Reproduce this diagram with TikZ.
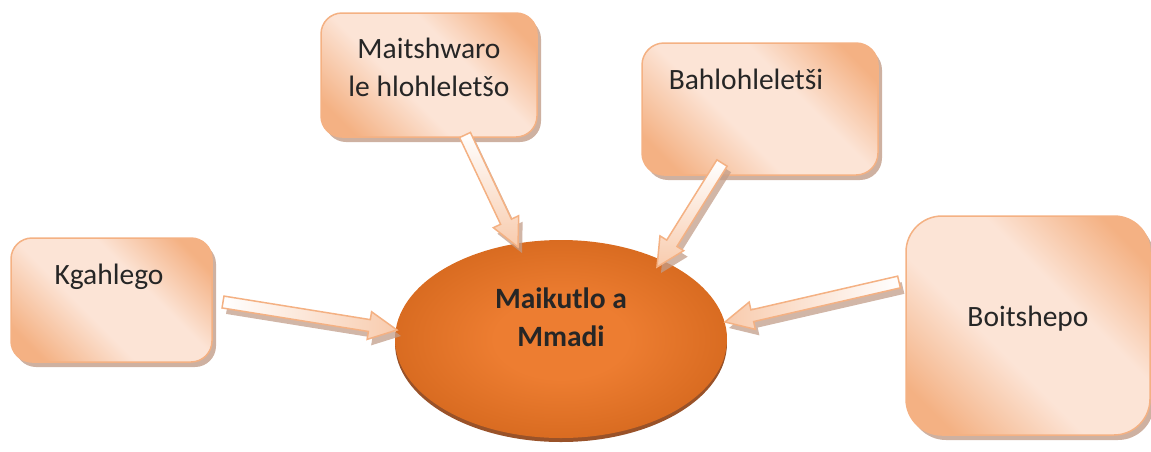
\documentclass[tikz,border=0pt]{standalone}
\usepackage{fontspec}
\setmainfont{Carlito}
\usetikzlibrary{calc,shadows,shapes.geometric}
\definecolor{peachD}{HTML}{F4B183}
\definecolor{peachL}{HTML}{FCE4D6}
\definecolor{peachM}{HTML}{F8CBAD}
\definecolor{boxline}{HTML}{F4B183}
\definecolor{shadowc}{HTML}{C29D89}
\definecolor{txt}{HTML}{262626}
\definecolor{eC}{HTML}{ED7D31}
\definecolor{eO}{HTML}{C55A11}
\definecolor{eS}{HTML}{8E3F12}
\pgfdeclareradialshading{ellsh}{\pgfpoint{0bp}{0bp}}{color(0bp)=(eC); color(10bp)=(eC); color(40bp)=(eO); color(50bp)=(eO)}
\pgfdeclareverticalshading{boxsh}{100bp}{color(0bp)=(peachD); color(22bp)=(peachD); color(42bp)=(peachL); color(60bp)=(peachL); color(78bp)=(peachD); color(100bp)=(peachD)}
\tikzset{
  boxstyle/.style={draw=boxline, line width=1.5pt, shading=boxsh, shading angle=-45,
    drop shadow={shadow xshift=4pt, shadow yshift=-5pt, fill=shadowc, opacity=0.8}},
  lbl/.style={text=txt, font=\fontsize{29.5}{38}\selectfont, inner sep=0pt, anchor=base, align=center},
  arr/.style={draw=boxline, line width=1.5pt, line join=miter,
    drop shadow={shadow xshift=4pt, shadow yshift=-6pt, fill=shadowc, opacity=0.75}},
  ell/.style={shading=ellsh, draw=none,
    drop shadow={shadow xshift=0pt, shadow yshift=-4pt, fill=eS, opacity=0.9}}
}
\newcommand\blockarrow[3]{%
  \coordinate (#1h) at ($(#2)!28pt!(#1)$);
  \path[arr,#3] ($(#1)!6pt!90:(#2)$) -- ($(#1h)!6pt!90:(#2)$) -- ($(#1h)!14pt!90:(#2)$) -- (#2)
     -- ($(#1h)!14pt!-90:(#2)$) -- ($(#1h)!6pt!-90:(#2)$) -- ($(#1)!6pt!-90:(#2)$) -- cycle;
}
\begin{document}
\begin{tikzpicture}[x=1pt,y=-1pt]
\useasboundingbox (0,0) rectangle (1151,451);
% boxes
\path[boxstyle, rounded corners=21pt] (321,13) rectangle (537,137);
\path[boxstyle, rounded corners=22pt] (642,43) rectangle (878,175);
\path[boxstyle, rounded corners=21pt] (11,238) rectangle (212,362);
\path[boxstyle, rounded corners=36pt] (906,216) rectangle (1150,435);
% ellipse
\node[ell, ellipse, minimum width=332pt, minimum height=198pt, inner sep=0pt] (center) at (561,339) {};
\node[lbl, font=\fontsize{29.5}{38}\selectfont\bfseries] (ctext) at (561,346) {Maikutlo a\\Mmadi};
% labels
\node[lbl] (t1) at (429,96) {Maitshwaro\\le hlohleletšo};
\node[lbl] (t2) at (746,89) {Bahlohleletši};
\node[lbl] (t3) at (109,284) {Kgahlego};
\node[lbl] (t4) at (1028,326) {Boitshepo};
% arrow endpoints
\coordinate (aK) at (223,302);
\coordinate (bK) at (397,330);
\coordinate (aM) at (465,135);
\coordinate (bM) at (518,247);
\coordinate (aB) at (722,163);
\coordinate (bB) at (657,267);
\coordinate (aT) at (899,282);
\coordinate (bT) at (725,322);
\blockarrow{aK}{bK}{left color=white, right color=peachM}
\blockarrow{aM}{bM}{top color=white, bottom color=peachM}
\blockarrow{aB}{bB}{top color=white, bottom color=peachM}
\blockarrow{aT}{bT}{left color=peachM, right color=white}
\end{tikzpicture}
\end{document}
